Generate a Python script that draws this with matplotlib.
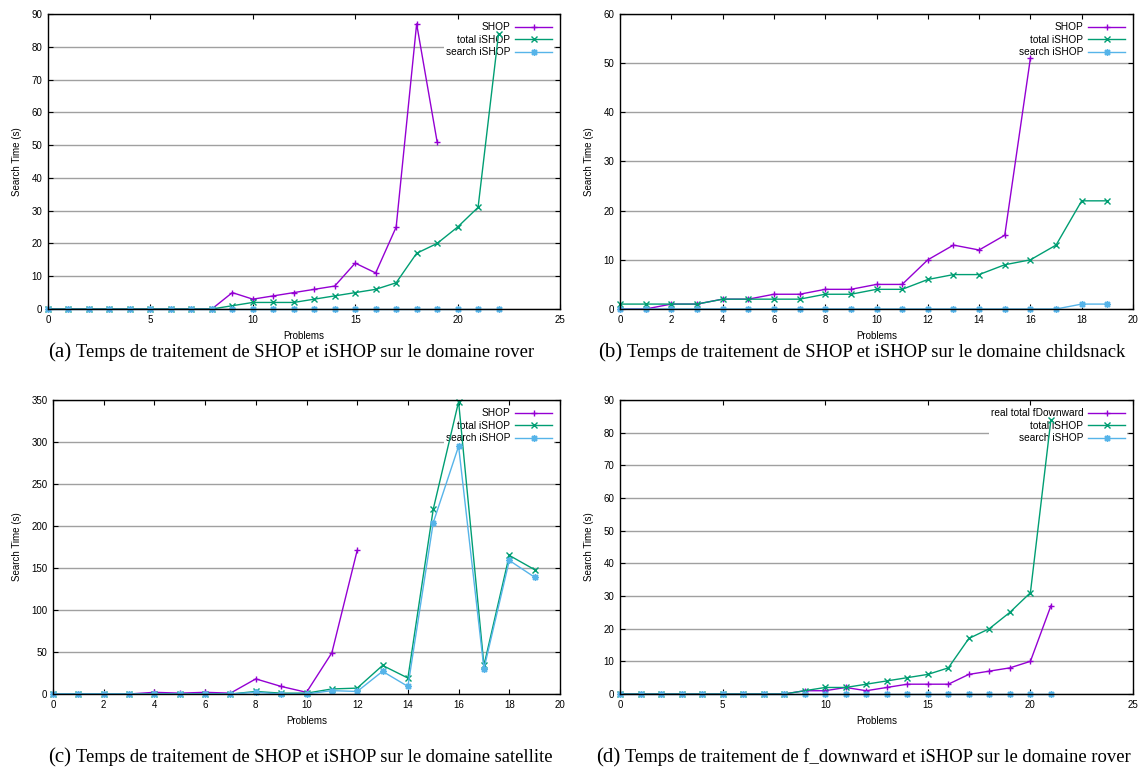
import matplotlib
matplotlib.use("Agg")
from matplotlib import pyplot as plt
import numpy as np

# Data
# (a) rover: SHOP vs iSHOP
a_shop = [0, 0, 0, 0, 0, 0, 0, 0, 0, 5, 3, 4, 5, 6, 7, 14, 11, 25, 87, 51]
a_total = [0, 0, 0, 0, 0, 0, 0, 0, 0, 1, 2, 2, 2, 3, 4, 5, 6, 8, 17, 20, 25, 31, 84]
a_search = [0] * 23

# (b) childsnack
b_shop = [0, 0, 1, 1, 2, 2, 3, 3, 4, 4, 5, 5, 10, 13, 12, 15, 51]
b_total = [1, 1, 1, 1, 2, 2, 2, 2, 3, 3, 4, 4, 6, 7, 7, 9, 10, 13, 22, 22]
b_search = [0, 0, 0, 0, 0, 0, 0, 0, 0, 0, 0, 0, 0, 0, 0, 0, 0, 0, 1, 1]

# (c) satellite
c_shop = [0, 0, 0, 0, 2, 1, 2, 1, 18, 9, 2, 49, 171]
c_total = [0, 0, 0, 0, 0, 0, 0, 0, 3, 1, 1, 6, 7, 34, 19, 220, 348, 34, 165, 148]
c_search = [0, 0, 0, 0, 0, 0, 0, 0, 2, 0, 0, 4, 3, 27, 9, 204, 295, 30, 159, 139]

# (d) rover: f_downward vs iSHOP
d_fdown = [0, 0, 0, 0, 0, 0, 0, 0, 0, 1, 1, 2, 1, 2, 3, 3, 3, 6, 7, 8, 10, 27]
d_total = [0, 0, 0, 0, 0, 0, 0, 0, 0, 1, 2, 2, 3, 4, 5, 6, 8, 17, 20, 25, 31, 84]
d_search = [0] * 22

cap_labels = ["(a)", "(b)", "(c)", "(d)"]
captions = [
    "Temps de traitement de SHOP et iSHOP sur le domaine rover",
    "Temps de traitement de SHOP et iSHOP sur le domaine childsnack",
    "Temps de traitement de SHOP et iSHOP sur le domaine satellite",
    "Temps de traitement de f_downward et iSHOP sur le domaine rover",
]

PURPLE = "#9400d3"
GREEN = "#009e73"
BLUE = "#56b4e9"

W, H = 1142, 769
fig = plt.figure(figsize=(W / 100, H / 100), dpi=100)
plt.rcParams["font.family"] = "Liberation Sans"


def make_axes(x0, y0, x1, y1):
    return fig.add_axes([x0 / W, 1 - y1 / H, (x1 - x0) / W, (y1 - y0) / H])


def panel(ax, series, labels, xmax, xstep, ymax, ystep):
    styles = [(PURPLE, "+", 5), (GREEN, "x", 4.5), (BLUE, (8, 2, 0), 5)]
    for vals, lab, (col, mk, ms) in zip(series, labels, styles):
        ax.plot(np.arange(len(vals)), vals, color=col, marker=mk, ms=ms,
                mew=1, lw=1, label=lab, zorder=3, clip_on=False)
    ax.set_xlim(0, xmax)
    ax.set_ylim(0, ymax)
    ax.set_xticks(np.arange(0, xmax + 0.1, xstep))
    ax.set_yticks(np.arange(0, ymax + 0.1, ystep))
    ax.yaxis.grid(True, color="#a0a0a0", lw=1)
    ax.set_axisbelow(True)
    ax.tick_params(direction="in", top=True, right=True, length=3.5,
                   width=0.8, labelsize=7, colors="black", pad=4)
    for s in ax.spines.values():
        s.set_linewidth(1)
        s.set_zorder(4)
    ax.set_xlabel("Problems", fontsize=7, labelpad=5)
    ax.set_ylabel("Search Time (s)", fontsize=7, labelpad=7)
    leg = ax.legend(loc="upper right", markerfirst=False, fontsize=7.3,
                    frameon=True, handlelength=3.6, handletextpad=0.5,
                    borderpad=0.2, labelspacing=0.25, borderaxespad=0.6,
                    fancybox=False)
    leg.get_frame().set_edgecolor("none")
    leg.get_frame().set_facecolor("white")
    leg.get_frame().set_alpha(1)
    leg.set_zorder(2.5)
    for t in leg.get_texts():
        t.set_ha("right")
    leg._legend_box.align = "right"


ax_a = make_axes(48, 14, 560, 309)
panel(ax_a, [a_shop, a_total, a_search], ["SHOP", "total iSHOP", "search iSHOP"],
      25, 5, 90, 10)
ax_b = make_axes(620, 14, 1133, 309)
panel(ax_b, [b_shop, b_total, b_search], ["SHOP", "total iSHOP", "search iSHOP"],
      20, 2, 60, 10)
ax_c = make_axes(53, 400, 560, 694)
panel(ax_c, [c_shop, c_total, c_search], ["SHOP", "total iSHOP", "search iSHOP"],
      20, 2, 350, 50)
ax_d = make_axes(620, 400, 1133, 694)
panel(ax_d, [d_fdown, d_total, d_search],
      ["real total fDownward", "total iSHOP", "search iSHOP"],
      25, 5, 90, 10)

# Captions: larger "(x)" label followed by the text
renderer = fig.canvas.get_renderer()
cap_pos = [(48, 357), (598, 357), (48, 762), (596, 762)]
for (cx, cy), lab, txt in zip(cap_pos, cap_labels, captions):
    t = fig.text(cx / W, 1 - cy / H, lab, ha="left", va="baseline",
                 fontsize=15, family="Liberation Serif")
    bb = t.get_window_extent(renderer)
    fig.text((bb.x1 + 5) / W, 1 - cy / H, txt, ha="left", va="baseline",
             fontsize=13.4, family="Liberation Serif")

fig.savefig("out.png", dpi=100)
